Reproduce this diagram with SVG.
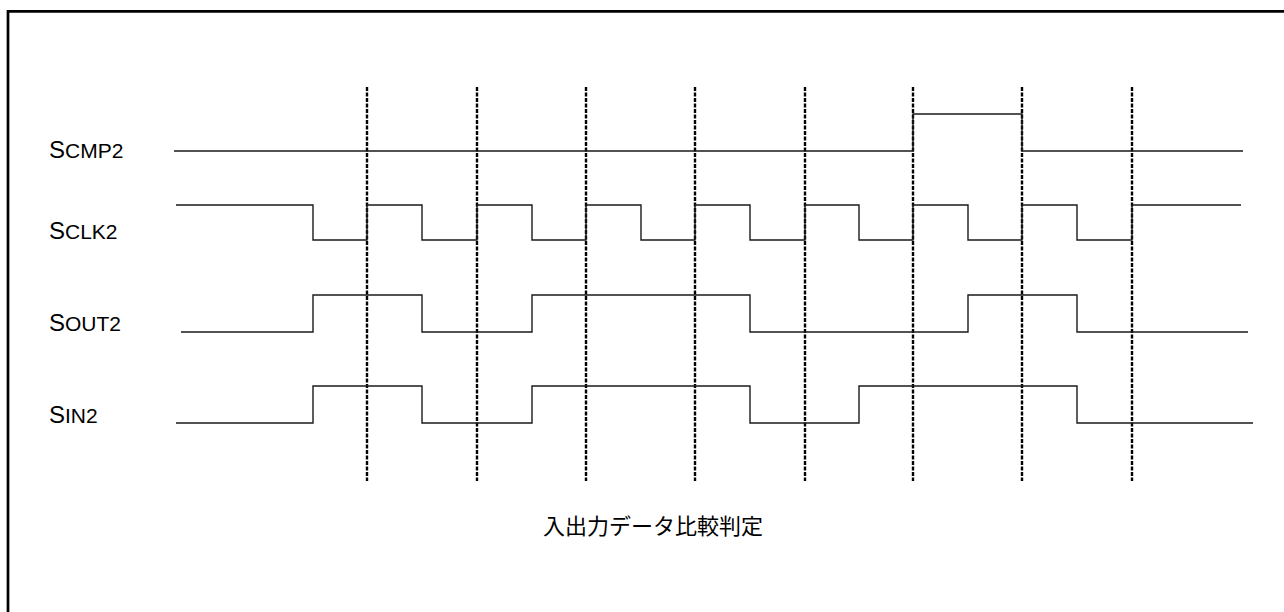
<svg xmlns="http://www.w3.org/2000/svg" width="1284" height="612" viewBox="0 0 1284 612">
<style>
.frame{fill:none;stroke:#000;stroke-width:2.7}
.sig{fill:none;stroke:#1a1a1a;stroke-width:1.4}
.grid{stroke:#000;stroke-width:2.4;stroke-dasharray:4 1.5}
.lbl{font-family:"Liberation Sans",Arial,sans-serif;fill:#000}
.big{font-size:24px}
.sm{font-size:21px}
.cap{font-family:"Noto Sans CJK JP","Liberation Sans",sans-serif;font-size:22px;fill:#000}
</style>
<path class="frame" d="M8,620 V11.3 H1290"/>
<g id="labels">
<text class="lbl" x="49" y="158"><tspan class="big">S</tspan><tspan class="sm">CMP2</tspan></text>
<text class="lbl" x="49" y="239"><tspan class="big">S</tspan><tspan class="sm">CLK2</tspan></text>
<text class="lbl" x="49" y="331"><tspan class="big">S</tspan><tspan class="sm">OUT2</tspan></text>
<text class="lbl" x="49" y="423"><tspan class="big">S</tspan><tspan class="sm">IN2</tspan></text>
</g>
<g id="grid">
<line class="grid" x1="367" y1="87" x2="367" y2="481"/>
<line class="grid" x1="477" y1="87" x2="477" y2="481"/>
<line class="grid" x1="586" y1="87" x2="586" y2="481"/>
<line class="grid" x1="695" y1="87" x2="695" y2="481"/>
<line class="grid" x1="805" y1="87" x2="805" y2="481"/>
<line class="grid" x1="913" y1="87" x2="913" y2="481"/>
<line class="grid" x1="1022" y1="87" x2="1022" y2="481"/>
<line class="grid" x1="1132" y1="87" x2="1132" y2="481"/>
</g>
<g id="signals">
<path id="scmp2" class="sig" d="M174,151 H913 V114 H1022 V151 H1243"/>
<path id="sclk2" class="sig" d="M176,205 H313 V240 H367 V205 H422 V240 H477 V205 H532 V240 H586 V205 H641 V240 H695 V205 H750 V240 H805 V205 H859 V240 H913 V205 H968 V240 H1022 V205 H1077 V240 H1132 V205 H1241"/>
<path id="sout2" class="sig" d="M181,332 H313 V295 H422 V332 H532 V295 H750 V332 H968 V295 H1077 V332 H1248"/>
<path id="sin2" class="sig" d="M176,423 H313 V386 H422 V423 H532 V386 H750 V423 H859 V386 H1077 V423 H1253"/>
</g>
<text class="cap" x="653" y="534" text-anchor="middle">入出力データ比較判定</text>
</svg>
